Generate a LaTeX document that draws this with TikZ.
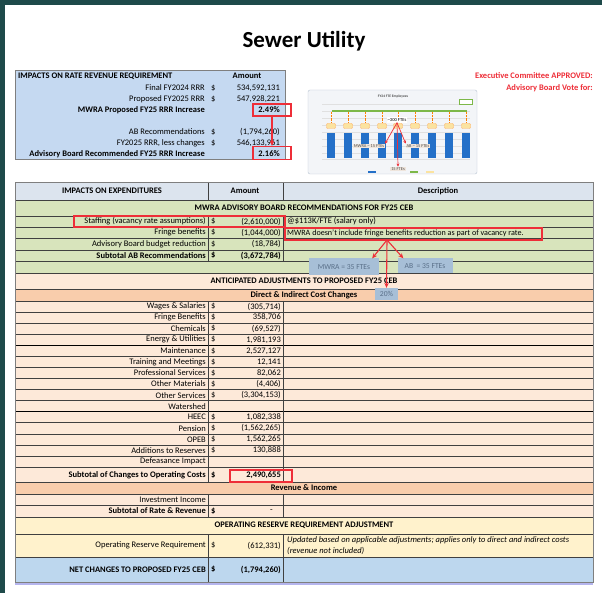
\documentclass[tikz,border=0pt]{standalone}
\usepackage{fontspec}
\setmainfont{Carlito}
\usetikzlibrary{positioning}
\usetikzlibrary{arrows.meta}
\usetikzlibrary{calc}

\definecolor{slideteal}{HTML}{1E4A4A}
\definecolor{rrrblue}{HTML}{C5D9F1}
\definecolor{hdrgray}{HTML}{DCE4EE}
\definecolor{abgreen}{HTML}{D8E4BC}
\definecolor{adjpeach}{HTML}{FDE9D9}
\definecolor{adjorange}{HTML}{F9CDAC}
\definecolor{resyellow}{HTML}{FFF2CC}
\definecolor{netblue}{HTML}{BDD7EE}
\definecolor{linegray}{HTML}{404040}
\definecolor{boxgray}{HTML}{7F7F7F}
\definecolor{hilite}{HTML}{EE2E38}
\definecolor{callout}{HTML}{A7BFD7}
\definecolor{callouttext}{HTML}{5A7089}
\definecolor{underline}{HTML}{B5B5EE}
\definecolor{chartbg}{HTML}{F3F5F8}
\definecolor{chartframe}{HTML}{B9C5D2}
\definecolor{barblue}{HTML}{2470C8}
\definecolor{fteline}{HTML}{7DB848}
\definecolor{tagyellow}{HTML}{FBE3A0}
\definecolor{chartlbl}{HTML}{EFE5DC}

\newcommand{\tabfont}{\fontsize{8.5}{9.5}\selectfont}

\tikzset{
  lbl/.style={anchor=east, inner sep=0pt, font=\tabfont},
  lblb/.style={anchor=east, inner sep=0pt, font=\tabfont\bfseries},
  dol/.style={anchor=west, inner sep=0pt, font=\tabfont},
  amt/.style={anchor=east, inner sep=0pt, font=\tabfont},
  amtb/.style={anchor=east, inner sep=0pt, font=\tabfont\bfseries},
  dsc/.style={anchor=west, inner sep=0pt, font=\tabfont},
  ttl/.style={inner sep=0pt, font=\tabfont\bfseries},
  rowline/.style={draw=linegray, line width=0.6pt},
  hibox/.style={draw=hilite, line width=1.2pt, inner sep=0pt},
  hiarrow/.style={draw=hilite, line width=1.1pt, -{Stealth[length=5pt,width=4.5pt]}},
  fte/.style={fill=callout, inner sep=0pt, text=callouttext, font=\fontsize{7.6}{8}\selectfont},
  chartnote/.style={fill=chartlbl, inner sep=0.8pt, text=black!70, font=\fontsize{4.4}{5}\selectfont},
}

\begin{document}
\begin{tikzpicture}[x=1pt, y=-1pt]

\useasboundingbox (0,0) rectangle (602,593);
\fill[slideteal] (0,0) rectangle (602,593);
\fill[white] (5,5) rectangle (602,593);

\node[font=\fontsize{23}{26}\selectfont\bfseries] (title) at (304,41) {Sewer Utility};

% rate revenue requirement
\filldraw[fill=rrrblue, draw=boxgray, line width=0.8pt] (15,70) rectangle (285,159);
\node[ttl, anchor=west] (rrrhead) at (18,76) {IMPACTS ON RATE REVENUE REQUIREMENT};
\node[ttl] (rrramount) at (247,76) {Amount};
\foreach \lb/\am/\yy [count=\i] in {{Final FY2024 RRR}/{534,592,131}/88, {Proposed FY2025 RRR}/{547,928,221}/99, {AB Recommendations}/{(1,794,260)}/132, {FY2025 RRR, less changes}/{546,133,961}/143}
{
  \node[lbl] (rl\i) at (205,\yy) {\lb};
  \node[dol] (rd\i) at (211,\yy) {\$};
  \node[amt] (ra\i) at (280,\yy) {\am};
}
\node[lblb] (mwrainc) at (205,110) {MWRA Proposed FY25 RRR Increase};
\node[amtb] (mwrapct) at (280,110) {2.49\%};
\node[lblb] (abinc) at (205,154) {Advisory Board Recommended FY25 RRR Increase};
\node[amtb] (abpct) at (280,154) {2.16\%};
\node[hibox, minimum width=38pt, minimum height=12pt] (hi249) at (272,110) {};
\node[hibox, minimum width=38pt, minimum height=13pt] (hi216) at (272,153) {};
\draw[hiarrow] (hi249.south) -- (hi216.north);

\node[font=\tabfont\bfseries, text=hilite, anchor=east, inner sep=0pt] (excom) at (593,76) {Executive Committee APPROVED:};
\node[font=\tabfont\bfseries, text=hilite, anchor=east, inner sep=0pt] (abvote) at (593,88) {Advisory Board Vote for:};

% FTE chart thumbnail
\filldraw[fill=chartbg, draw=chartframe, rounded corners=2pt] (308,90) rectangle (477,174);
\node[font=\fontsize{3.6}{4}\selectfont\bfseries, text=black!70] (ctitle) at (393,97) {FY24 FTE Employees};
\foreach \yy in {104,111,118,125,132,139,146,153,159}
  \draw[black!12, line width=0.3pt] (322,\yy) -- (470,\yy);
\draw[fteline, line width=1.5pt] (332,111) -- (467,111);
\draw[fteline, fill=white, line width=0.4pt] (459,99) rectangle (472,104);
\foreach \bx [count=\i] in {331,348,365,382,398,415,432,449,466}
{
  \fill[barblue] ({\bx-4},133) rectangle ({\bx+4},158);
  \draw[orange, densely dotted, line width=0.4pt] (\bx,112) -- (\bx,123);
  \node[fill=tagyellow, draw=orange!60, minimum width=9pt, minimum height=5pt, inner sep=0pt, rounded corners=1pt] (tag\i) at (\bx,126) {};
}
\fill[barblue] (368,171) rectangle (376,173);
\fill[fteline] (410,171) rectangle (418,173);
\fill[tagyellow] (426,171) rectangle (434,173);
\node[fill=white, inner sep=1pt, font=\fontsize{4.6}{5}\selectfont] (c300) at (397,120) {\textasciitilde300 FTEs};
\node[chartnote] (cmwra) at (369,146) {MWRA \textasciitilde{} 15 FTEs};
\node[chartnote] (cab) at (418,146) {AB \textasciitilde{} 15 FTEs};
\node[chartnote] (c15) at (398,169) {15 FTEs};
\draw[hilite, line width=0.7pt, -{Stealth[length=3pt,width=3pt]}] (c300.south) -- (c15.north);
\draw[hilite, line width=0.7pt, -{Stealth[length=3pt,width=3pt]}] (c300.south) -- (cmwra.north east);
\draw[hilite, line width=0.7pt, -{Stealth[length=3pt,width=3pt]}] (c300.south) -- (cab.north west);

% expenditures table fills
\fill[hdrgray] (15,182) rectangle (593,200);
\fill[abgreen] (15,200) rectangle (593,273);
\fill[adjpeach] (15,273) rectangle (593,289);
\fill[adjorange] (15,289) rectangle (593,301);
\fill[adjpeach] (15,301) rectangle (593,482);
\fill[adjorange] (15,482) rectangle (593,494);
\fill[adjpeach] (15,494) rectangle (593,517);
\fill[resyellow] (15,517) rectangle (593,557);
\fill[netblue] (15,557) rectangle (593,582);

\foreach \yy in {200,216,227,238,250,261,273,289,301,482,494,505,517,534,557}
  \draw[rowline] (15,\yy) -- (593,\yy);
\foreach \i in {1,2,3,5,6,7,8,9,11,12,13,14,15}
  \draw[rowline] (15,{301+11.07*\i}) -- (593,{301+11.07*\i});
\foreach \i in {4,10}
  \draw[draw=black, line width=1.3pt] (15,{301+11.07*\i}) -- (593,{301+11.07*\i});
\foreach \xx in {208,283}
{
  \draw[rowline] (\xx,182) -- (\xx,200);
  \draw[rowline] (\xx,216) -- (\xx,261);
  \draw[rowline] (\xx,301) -- (\xx,482);
  \draw[rowline] (\xx,494) -- (\xx,517);
  \draw[rowline] (\xx,534) -- (\xx,582);
}
\draw[draw=boxgray, line width=0.9pt] (15,182) rectangle (593,582);
\draw[underline, line width=2pt] (15,584) -- (593,584);

\node[ttl] (exphead) at (112,191) {IMPACTS ON EXPENDITURES};
\node[ttl] (expamount) at (245,191) {Amount};
\node[ttl] (expdesc) at (438,191) {Description};

% advisory board recommendations
\node[ttl] (abhead) at (304,208) {MWRA ADVISORY BOARD RECOMMENDATIONS FOR FY25 CEB};
\path
(206,221.5) node[lbl] (staff) {Staffing (vacancy rate assumptions)}
(211,221.5) node[dol] (staffd) {\$}
(281,221.5) node[amt] (staffa) {(2,610,000)}
(287,221.5) node[dsc] (staffn) {@\$113K/FTE (salary only)}
(206,232.5) node[lbl] (fringe) {Fringe benefits}
(211,232.5) node[dol] (fringed) {\$}
(281,232.5) node[amt] (fringea) {(1,044,000)}
(287,233) node[dsc, font=\fontsize{8.1}{9}\selectfont] (fringen) {MWRA doesn't include fringe benefits reduction as part of vacancy rate.}
(206,244) node[lbl] (abcut) {Advisory Board budget reduction}
(211,244) node[dol] (abcutd) {\$}
(281,244) node[amt] (abcuta) {(18,784)}
(206,255.5) node[lblb] (absub) {Subtotal AB Recommendations}
(211,255.5) node[dol, font=\tabfont\bfseries] (absubd) {\$}
(281,255.5) node[amtb] (absuba) {(3,672,784)};

% anticipated adjustments
\node[ttl] (adjhead) at (304,281) {ANTICIPATED ADJUSTMENTS TO PROPOSED FY25 CEB};
\node[ttl] (dihead) at (304,295) {Direct \& Indirect Cost Changes};
\foreach \lb/\dl/\am [count=\i] in {{Wages \& Salaries}/\$/{(305,714)}, {Fringe Benefits}/\$/{358,706}, Chemicals/\$/{(69,527)}, {Energy \& Utilities}/\$/{1,981,193}, Maintenance/\$/{2,527,127}, {Training and Meetings}/\$/{12,141}, {Professional Services}/\$/{82,062}, {Other Materials}/\$/{(4,406)}, {Other Services}/\$/{(3,304,153)}, Watershed/{}/{}, HEEC/\$/{1,082,338}, Pension/\$/{(1,562,265)}, OPEB/\$/{1,562,265}, {Additions to Reserves}/\$/{130,888}, {Defeasance Impact}/{}/{}}
{
  \node[lbl] (cl\i) at (206,{301+11.07*(\i-0.5)}) {\lb};
  \node[dol] (cd\i) at (211,{301+11.07*(\i-0.5)}) {\dl};
  \node[amt] (ca\i) at (281,{301+11.07*(\i-0.5)}) {\am};
}
\node[lblb] (opsub) at (206,475) {Subtotal of Changes to Operating Costs};
\node[dol, font=\tabfont\bfseries] (opsubd) at (211,475) {\$};
\node[amtb] (opsuba) at (281,475) {2,490,655};
\node[hibox, minimum width=62pt, minimum height=12pt] (hiops) at (261,476) {};

% revenue and reserve
\node[ttl] (revhead) at (304,488) {Revenue \& Income};
\node[lbl] (invinc) at (206,499.5) {Investment Income};
\node[lblb] (revsub) at (206,511) {Subtotal of Rate \& Revenue};
\node[dol, font=\tabfont\bfseries] (revsubd) at (211,511) {\$};
\node[amt] (revsuba) at (273,511) {-};
\node[ttl] (reshead) at (304,525.5) {OPERATING RESERVE REQUIREMENT ADJUSTMENT};
\node[lbl] (resreq) at (206,545.5) {Operating Reserve Requirement};
\node[dol] (resreqd) at (211,545.5) {\$};
\node[amt] (resreqa) at (281,545.5) {(612,331)};
\node[dsc, font=\tabfont\itshape] (resnote1) at (287,540) {Updated based on applicable adjustments; applies only to direct and indirect costs};
\node[dsc, font=\tabfont\itshape] (resnote2) at (287,551) {(revenue not included)};
\node[lblb] (net) at (206,569.5) {NET CHANGES TO PROPOSED FY25 CEB};
\node[dol, font=\tabfont\bfseries] (netd) at (211,569.5) {\$};
\node[amtb] (neta) at (281,569.5) {(1,794,260)};

% highlights and callouts
\node[hibox, minimum width=211pt, minimum height=11pt] (histaff) at (179.5,221.5) {};
\node[hibox, minimum width=257pt, minimum height=12pt] (hifringe) at (413.5,234) {};
\coordinate (split) at (387,240);
\node[fte, minimum width=70pt, minimum height=17pt] (mwra) at (344,267) {MWRA = 35 FTEs};
\node[fte, minimum width=55pt, minimum height=15pt] (ab) at (425,266) {AB \ = 35 FTEs};
\node[fte, minimum width=23pt, minimum height=12pt] (pct20) at (386.5,294) {20\%};
\draw[hiarrow] (split) -- ([xshift=-7pt]mwra.north east);
\draw[hiarrow] (split) -- ([xshift=6pt]ab.north west);
\draw[hiarrow] (split) -- (pct20.north);

\end{tikzpicture}
\end{document}
